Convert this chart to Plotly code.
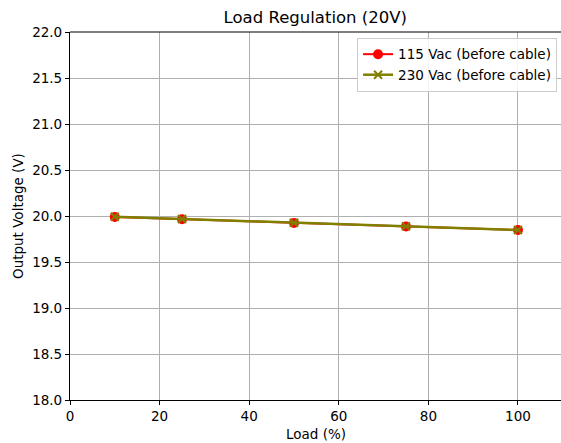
import plotly.graph_objects as go

load = [10, 25, 50, 75, 100]
v115 = [19.99, 19.965, 19.925, 19.885, 19.847]
v230 = [19.992, 19.968, 19.927, 19.887, 19.848]
names = ["115 Vac (before cable)", "230 Vac (before cable)"]

font = "DejaVu Sans, sans-serif"
fig = go.Figure()
fig.add_trace(go.Scatter(x=load, y=v115, name=names[0], mode="lines+markers",
                         line=dict(color="red", width=2),
                         marker=dict(symbol="circle", size=10, color="red")))
fig.add_trace(go.Scatter(x=load, y=v230, name=names[1], mode="lines+markers",
                         line=dict(color="#808000", width=2.5),
                         marker=dict(symbol="x-thin", size=8, color="#808000",
                                     line=dict(color="#808000", width=2))))

axis_common = dict(showgrid=True, gridcolor="#b0b0b0", gridwidth=1,
                   showline=True, linecolor="black", linewidth=1.2,
                   ticks="outside", ticklen=4, tickcolor="black",
                   tickfont=dict(family=font, size=13.5, color="black"),
                   zeroline=False, automargin=False)
fig.update_layout(
    width=561, height=443,
    margin=dict(l=70, r=0, t=32, b=43, autoexpand=False),
    paper_bgcolor="white", plot_bgcolor="white",
    title=dict(text="Load Regulation (20V)", x=0.562, xanchor="center",
               y=0.96, yanchor="middle",
               font=dict(family=font, size=16.5, color="black")),
    xaxis=dict(range=[0, 109.6], tickvals=[0, 20, 40, 60, 80, 100], **axis_common),
    yaxis=dict(range=[18.0, 22.0], tickvals=[18.0, 18.5, 19.0, 19.5, 20.0, 20.5, 21.0, 21.5, 22.0],
               tickformat=".1f", **axis_common),
    legend=dict(x=0.992, y=0.984, xanchor="right", yanchor="top",
                bgcolor="rgba(255,255,255,0.85)", bordercolor="#cccccc", borderwidth=1,
                font=dict(family=font, size=13.5, color="black"),
                tracegroupgap=0, itemwidth=30),
    showlegend=True,
)
fig.add_annotation(text="Load (%)", xref="paper", yref="paper", x=0.5, y=0,
                   yshift=-34, xanchor="center", yanchor="middle", showarrow=False,
                   font=dict(family=font, size=13.5, color="black"))
fig.add_annotation(text="Output Voltage (V)", xref="paper", yref="paper", x=0, y=0.5,
                   xshift=-52, xanchor="center", yanchor="middle", showarrow=False, textangle=-90,
                   font=dict(family=font, size=13.5, color="black"))
# top spine
fig.add_shape(type="line", xref="paper", yref="paper", x0=0, x1=1, y0=1, y1=1,
              line=dict(color="black", width=1.2))
fig.write_html("out.html", config={"displayModeBar": False},
               post_script="document.body.style.margin='0px';document.body.style.overflow='hidden';")
